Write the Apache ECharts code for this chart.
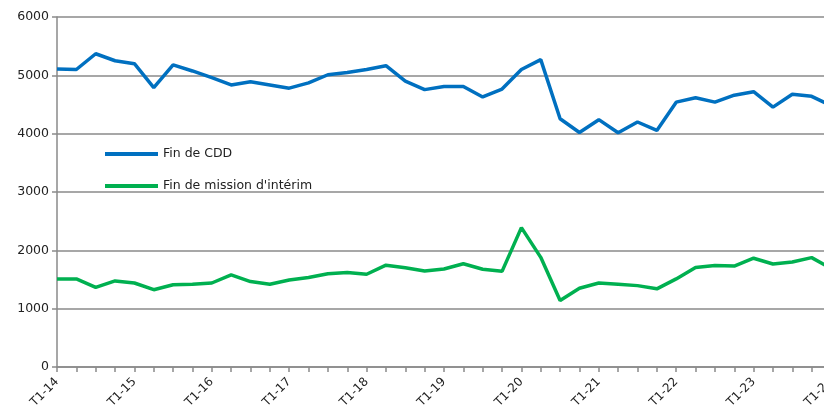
<!DOCTYPE html>
<html>
<head>
<meta charset="utf-8">
<script src="https://cdn.jsdelivr.net/npm/echarts@6/dist/echarts.min.js"></script>
<style>
html,body{margin:0;padding:0;background:#fff;}
#chart{width:824px;height:414px;}
</style>
</head>
<body>
<div id="chart"></div>
<script>
var categories = [
  "T1-14","T2-14","T3-14","T4-14",
  "T1-15","T2-15","T3-15","T4-15",
  "T1-16","T2-16","T3-16","T4-16",
  "T1-17","T2-17","T3-17","T4-17",
  "T1-18","T2-18","T3-18","T4-18",
  "T1-19","T2-19","T3-19","T4-19",
  "T1-20","T2-20","T3-20","T4-20",
  "T1-21","T2-21","T3-21","T4-21",
  "T1-22","T2-22","T3-22","T4-22",
  "T1-23","T2-23","T3-23","T4-23",
  "T1-24"
];
var finCDD = [5110, 5100, 5370, 5250, 5200, 4790, 5180, 5075, 4960, 4835,
  4890, 4835, 4780, 4870, 5010, 5050, 5100, 5165, 4900, 4755,
  4810, 4810, 4630, 4765, 5100, 5270, 4255, 4020, 4240, 4015,
  4200, 4055, 4540, 4615, 4540, 4660, 4720, 4455, 4675, 4640, 4480];
var finInterim = [1510, 1510, 1365, 1475, 1440, 1325, 1410, 1420, 1440, 1580,
  1465, 1420, 1490, 1535, 1600, 1620, 1590, 1745, 1700, 1645,
  1680, 1770, 1675, 1640, 2390, 1880, 1140, 1350, 1440, 1420,
  1395, 1340, 1510, 1705, 1740, 1730, 1865, 1765, 1800, 1875, 1690];
var seriesNames = ["Fin de CDD", "Fin de mission d'intérim"];
var yTicks = [0, 1000, 2000, 3000, 4000, 5000, 6000];

var chart = echarts.init(document.getElementById('chart'), null, {renderer: 'canvas'});
var font = 'DejaVu Sans';
chart.setOption({
  animation: false,
  backgroundColor: '#ffffff',
  grid: {left: 57, width: 774, top: 17, height: 350, containLabel: false, outerBoundsMode: 'none'},
  legend: {
    orient: 'vertical',
    left: 100,
    top: 142,
    itemWidth: 53,
    itemHeight: 4,
    itemGap: 18,
    icon: 'rect',
    textStyle: {fontFamily: font, fontSize: 12.5, color: '#222', lineHeight: 14, padding: [0, 0, 0, 0]},
    data: seriesNames
  },
  xAxis: {
    type: 'category',
    data: categories,
    boundaryGap: false,
    axisLine: {lineStyle: {color: '#8a8a8a', width: 1.5}},
    axisTick: {show: true, interval: 0, length: 5, lineStyle: {color: '#8a8a8a', width: 1.5}},
    axisLabel: {interval: 3, rotate: 45, margin: 13, fontFamily: font, fontSize: 12, color: '#222'},
    splitLine: {show: false}
  },
  yAxis: {
    type: 'value',
    min: yTicks[0],
    max: yTicks[yTicks.length - 1],
    interval: 1000,
    axisLine: {show: true, lineStyle: {color: '#8a8a8a', width: 1.5}},
    axisTick: {show: true, length: 5, lineStyle: {color: '#8a8a8a', width: 1.5}},
    axisLabel: {margin: 8, fontFamily: font, fontSize: 12.5, color: '#222',
      formatter: function (v) { return String(v); }},
    splitLine: {show: true, lineStyle: {color: '#8a8a8a', width: 1.5}}
  },
  series: [
    {
      name: seriesNames[0], type: 'line', data: finCDD,
      symbol: 'none', color: '#0070C0',
      lineStyle: {width: 3.5, color: '#0070C0'}
    },
    {
      name: seriesNames[1], type: 'line', data: finInterim,
      symbol: 'none', color: '#00B050',
      lineStyle: {width: 3.5, color: '#00B050'}
    }
  ]
});
</script>
</body>
</html>
